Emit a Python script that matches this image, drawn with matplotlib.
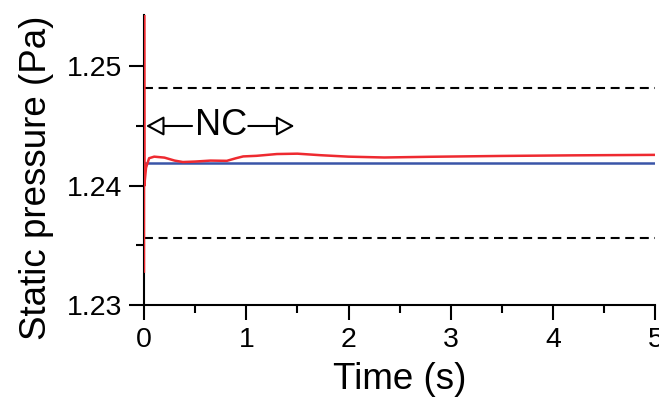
import numpy as np
import matplotlib
matplotlib.use("Agg")
from matplotlib import pyplot as plt
from matplotlib.ticker import MultipleLocator, FormatStrFormatter

plt.rcParams['font.family'] = ['Liberation Sans', 'DejaVu Sans']

# red series (simulation)
t_red = [0, 0.0005, 0.003, 0.02, 0.05, 0.1, 0.2, 0.3, 0.38, 0.5, 0.65, 0.81,
         0.9, 0.97, 1.1, 1.3, 1.5, 1.73, 2.0, 2.35, 2.8, 3.5, 4.2, 5.0]
p_red = [1.2328, 1.2600, 1.2400, 1.2415, 1.2423, 1.24243, 1.24235, 1.2421,
         1.24198, 1.24202, 1.2421, 1.24208, 1.2423, 1.24245, 1.2425, 1.24265,
         1.24268, 1.24255, 1.24243, 1.24236, 1.24242, 1.24249, 1.24254, 1.24258]

# blue reference level
t_blue = [0, 5]
p_blue = [1.24186, 1.24186]

# dashed bounds
upper = 1.2482
lower = 1.2356

fig = plt.figure(figsize=(6.59, 4.01), dpi=100)
ax = fig.add_axes([0.2185, 0.2394, 0.776, 0.7232])

ax.plot(t_blue, p_blue, color="#3a55a8", lw=1.8, zorder=2)
ax.plot(t_red, p_red, color="#ee2a30", lw=1.8, zorder=3)
ax.axhline(upper, color="black", lw=1.5, ls=(0, (4.3, 2.7)), zorder=2)
ax.axhline(lower, color="black", lw=1.5, ls=(0, (4.3, 2.7)), zorder=2)

# NC annotation with open arrow heads
ax.text(0.755, 1.245, "NC", fontsize=26, ha="center", va="center")
aprops = dict(arrowstyle="-|>,head_length=0.55,head_width=0.3",
              fc="white", ec="black", lw=1.5, mutation_scale=20,
              shrinkA=0, shrinkB=0)
ax.annotate("", xy=(0.02, 1.245), xytext=(0.47, 1.245), arrowprops=aprops)
ax.annotate("", xy=(1.47, 1.245), xytext=(1.02, 1.245), arrowprops=aprops)

ax.set_xlim(0, 5)
ax.set_ylim(1.23, 1.2543)
ax.xaxis.set_major_locator(MultipleLocator(1))
ax.xaxis.set_minor_locator(MultipleLocator(0.5))
ax.yaxis.set_major_locator(MultipleLocator(0.01))
ax.yaxis.set_minor_locator(MultipleLocator(0.005))
ax.yaxis.set_major_formatter(FormatStrFormatter("%.2f"))

for s in ["top", "right"]:
    ax.spines[s].set_visible(False)
for s in ["left", "bottom"]:
    ax.spines[s].set_linewidth(1.5)
ax.tick_params(which="major", direction="out", length=11, width=1.5,
               labelsize=20.5, pad=5)
ax.tick_params(which="minor", direction="out", length=5.5, width=1.5)

ax.set_xlabel("Time (s)", fontsize=26.5, labelpad=6)
ax.set_ylabel("Static pressure (Pa)", fontsize=26.5, labelpad=9)
ax.yaxis.label.set_y(0.44)

fig.savefig("out.png", dpi=100)
